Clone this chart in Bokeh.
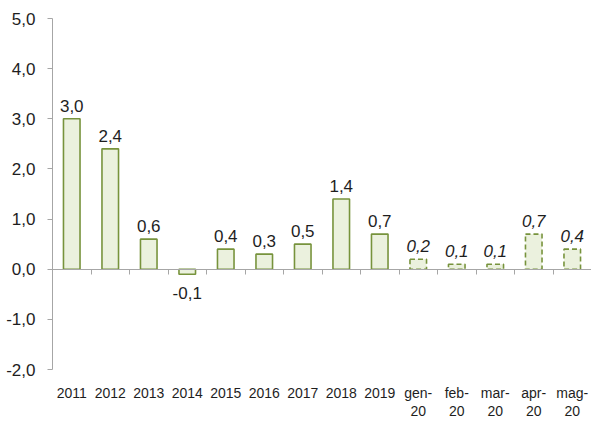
from bokeh.plotting import figure
from bokeh.models import ColumnDataSource, LinearAxis, FixedTicker, Range1d
from bokeh.core.properties import value
from bokeh.embed import file_html
from bokeh.resources import INLINE

categories = ["2011", "2012", "2013", "2014", "2015", "2016", "2017", "2018", "2019",
              "gen-\n20", "feb-\n20", "mar-\n20", "apr-\n20", "mag-\n20"]
values = [3.0, 2.4, 0.6, -0.1, 0.4, 0.3, 0.5, 1.4, 0.7, 0.2, 0.1, 0.1, 0.7, 0.4]
is_month = [False] * 9 + [True] * 5
y_ticks = [-2, -1, 0, 1, 2, 3, 4, 5]

FONT = "Liberation Sans"
TXT = "#1e1e1e"
AX = "#a6a6a6"
FILL = "#ebf1de"
LINE = "#77933c"

def fmt(v):
    return f"{v:.1f}".replace(".", ",")

n = len(categories)
xs = [i + 0.5 for i in range(n)]

p = figure(width=591, height=421, output_backend="svg", toolbar_location=None,
           x_range=Range1d(0, n), y_range=Range1d(-2, 5),
           min_border_left=52, min_border_right=0, min_border_top=18, min_border_bottom=52,
           x_axis_location=None, y_axis_location=None)
p.grid.visible = False
p.outline_line_color = None

def sub(mask):
    idx = [i for i in range(n) if mask(i)]
    return ColumnDataSource(dict(
        x=[xs[i] for i in idx],
        top=[values[i] for i in idx],
        lab=[fmt(values[i]) for i in idx],
        ly=[max(values[i], 0) for i in idx],
    ))

ann = sub(lambda i: not is_month[i])
mon = sub(lambda i: is_month[i])
pos = sub(lambda i: not is_month[i] and values[i] >= 0)
neg = sub(lambda i: not is_month[i] and values[i] < 0)

p.vbar(x="x", top="top", bottom=0, width=0.43, source=ann,
       fill_color=FILL, line_color=LINE, line_width=1.6)
p.vbar(x="x", top="top", bottom=0, width=0.43, source=mon,
       fill_color=FILL, line_color=LINE, line_width=1.6, line_dash="5 3")

common = dict(text_font=value(FONT), text_font_size="17px", text_color=TXT, text_align="center")
p.text(x="x", y="ly", text="lab", source=pos, text_baseline="bottom", y_offset=-7, **common)
p.text(x="x", y="top", text="lab", source=neg, text_baseline="top", y_offset=13, **common)
p.text(x="x", y="ly", text="lab", source=mon, text_baseline="bottom", y_offset=-7,
       text_font_style="italic", **common)

# y axis
yax = LinearAxis(ticker=FixedTicker(ticks=y_ticks),
                 major_label_overrides={t: fmt(t) for t in y_ticks})
yax.axis_line_color = AX
yax.major_tick_line_color = AX
yax.major_tick_out = 5
yax.major_tick_in = 0
yax.minor_tick_line_color = None
yax.major_label_standoff = 12
yax.major_label_text_font = FONT
yax.major_label_text_font_size = "17px"
yax.major_label_text_color = TXT
p.add_layout(yax, "left")

# zero line axis with boundary ticks
bounds = list(range(n + 1))
zax = LinearAxis(ticker=FixedTicker(ticks=bounds), fixed_location=0,
                 major_label_overrides={b: "" for b in bounds})
zax.axis_line_color = AX
zax.major_tick_line_color = AX
zax.major_tick_out = 5
zax.major_tick_in = 0
zax.minor_tick_line_color = None
zax.major_label_standoff = 0
p.add_layout(zax, "below")

# category labels
xax = LinearAxis(ticker=FixedTicker(ticks=xs),
                 major_label_overrides={x: c for x, c in zip(xs, categories)})
xax.axis_line_color = None
xax.major_tick_line_color = None
xax.minor_tick_line_color = None
xax.major_tick_out = 0
xax.major_tick_in = 0
xax.major_label_standoff = 15
xax.major_label_text_font = FONT
xax.major_label_text_font_size = "14px"
xax.major_label_text_color = TXT
xax.major_label_text_line_height = 1.15
p.add_layout(xax, "below")

open("out.html", "w").write(file_html(p, INLINE))
